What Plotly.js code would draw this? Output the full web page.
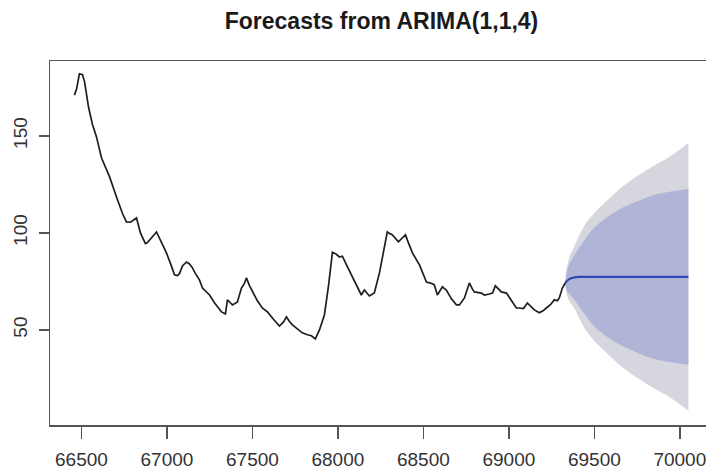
<!DOCTYPE html>
<html>
<head>
<meta charset="utf-8">
<script src="https://cdn.plot.ly/plotly-3.0.1.min.js"></script>
<style>
html,body{margin:0;padding:0;overflow:hidden;background:#fff;width:706px;height:470px;}
#chart{width:720px;height:470px;}
</style>
</head>
<body>
<div id="chart"></div>
<script>
// Observed series
const obsX = [66459,66471,66488,66506,66518,66541,66564,66588,66617,66640,66664,66705,66740,66763,66787,66822,66845,66874,66886,66939,66968,66997,67026,67044,67061,67073,67091,67114,67132,67149,67167,67190,67208,67225,67249,67278,67319,67342,67354,67371,67383,67412,67436,67453,67465,67482,67500,67529,67558,67588,67623,67658,67681,67699,67716,67734,67763,67792,67822,67845,67868,67892,67921,67944,67968,67991,68009,68026,68056,68085,68114,68137,68155,68184,68213,68243,68266,68289,68307,68319,68354,68377,68395,68412,68436,68477,68518,68547,68564,68582,68611,68634,68664,68693,68711,68740,68757,68769,68787,68798,68839,68857,68886,68904,68921,68939,68956,68986,69015,69044,69061,69085,69108,69132,69149,69178,69202,69219,69243,69266,69284,69295,69313,69330];
const obsY = [171,174,182,181.5,178,165,156,149.5,138.7,133.5,129,118.5,110,105.7,105.5,107.7,100,94.5,95,100.5,95,89.7,83,78.4,78,79,83,85,84,82,79,75.8,71.6,70,68,64,59.3,58.2,65.5,64,62.9,64.4,71.6,74,76.8,73,69.6,65,61.3,59.3,55.5,52,54,56.7,54.5,52.6,50.5,48.5,47.5,47,45.4,50,57.7,72,90,89,87.6,88,82.5,77.3,72,68,70.6,67.5,69,79.4,90,100.5,99.5,99,95.4,97.5,99,95,89.7,83.5,74.7,74,73.2,68,72.2,70.6,66,62.9,62.9,66.5,71,74.2,71,69.6,69,68,68.5,69,72.7,71,69.6,69,65,61.3,61.3,61,63.9,62,60.3,58.8,60,61.3,63,65.5,65,66.5,71.6,74.2];

// Forecast
const fcX     = [69330,69335,69345,69360,69380,69410,69450,69500,69570,69650,69750,69850,69950,70050];
const fcMean  = [74.2,74.8,75.6,76.5,77.0,77.3,77.3,77.3,77.3,77.3,77.3,77.3,77.3,77.3];
const upper95 = [74.2,79.8,84.6,89,92.5,98.3,104.8,110.3,116.3,122.8,129.3,134.8,139.8,146.3];
const upper80 = [74.2,78.3,82.1,85,88,92.3,97.3,102.8,107.8,112.3,116.3,119.6,121.3,122.6];
const lower80 = [74.2,71.3,69.1,68,66,62.3,57.3,51.8,46.8,42.3,38.3,35,33.3,32];
const lower95 = [74.2,69.8,66.6,64,61.5,56.3,49.8,44.3,38.3,31.8,25.3,19.8,14.8,8.3];

const xTicks = [66500,67000,67500,68000,68500,69000,69500,70000];
const yTicks = [50,100,150];

// polygon: upper from right to left, then lower from left to right (tip in the middle)
function band(lo, hi) {
  const xr = fcX.slice().reverse();
  return {
    x: xr.concat(fcX.slice(1)),
    y: hi.slice().reverse().concat(lo.slice(1))
  };
}
const b95 = band(lower95, upper95);
const b80 = band(lower80, upper80);

const traces = [
  {x: b95.x, y: b95.y, type: 'scatter', mode: 'lines', fill: 'toself',
   fillcolor: '#d6d6de', line: {width: 0, color: 'rgba(0,0,0,0)', shape: 'spline', smoothing: 0.8}, hoverinfo: 'skip'},
  {x: b80.x, y: b80.y, type: 'scatter', mode: 'lines', fill: 'toself',
   fillcolor: '#b0b4d6', line: {width: 0, color: 'rgba(0,0,0,0)', shape: 'spline', smoothing: 0.8}, hoverinfo: 'skip'},
  {x: fcX, y: fcMean, type: 'scatter', mode: 'lines',
   line: {color: '#3146b8', width: 2.2, shape: 'spline', smoothing: 0.6}},
  {x: obsX, y: obsY, type: 'scatter', mode: 'lines',
   line: {color: '#1e1e1e', width: 1.7}}
];

const tickFont = {family: 'Liberation Sans, Arial, sans-serif', size: 19, color: '#333'};

const layout = {
  width: 720, height: 470,
  margin: {l: 50, r: 7, t: 61, b: 45},
  paper_bgcolor: '#fff', plot_bgcolor: '#fff',
  showlegend: false,
  title: {
    text: '<b>Forecasts from ARIMA(1,1,4)</b>',
    font: {family: 'Liberation Sans, Arial, sans-serif', size: 23, color: '#1a1a1a'},
    x: 0.5, xref: 'paper', y: 1 - 21/470, yref: 'container', yanchor: 'middle'
  },
  xaxis: {
    range: [66316, 70194], tickvals: xTicks, ticktext: xTicks.map(String),
    showgrid: false, zeroline: false,
    showline: true, mirror: true, linecolor: '#555', linewidth: 1.5,
    ticks: 'outside', ticklen: 12, tickwidth: 1.5, tickcolor: '#555',
    tickfont: tickFont, ticklabelstandoff: 5
  },
  yaxis: {
    range: [1.0, 188.6], tickvals: yTicks, ticktext: yTicks.map(String),
    showgrid: false, zeroline: false,
    showline: true, mirror: true, linecolor: '#555', linewidth: 1.5,
    ticks: 'outside', ticklen: 10, tickwidth: 1.5, tickcolor: '#555',
    tickangle: -90, tickfont: tickFont, ticklabelstandoff: 4
  }
};

Plotly.newPlot('chart', traces, layout, {displayModeBar: false, staticPlot: true});
</script>
</body>
</html>
